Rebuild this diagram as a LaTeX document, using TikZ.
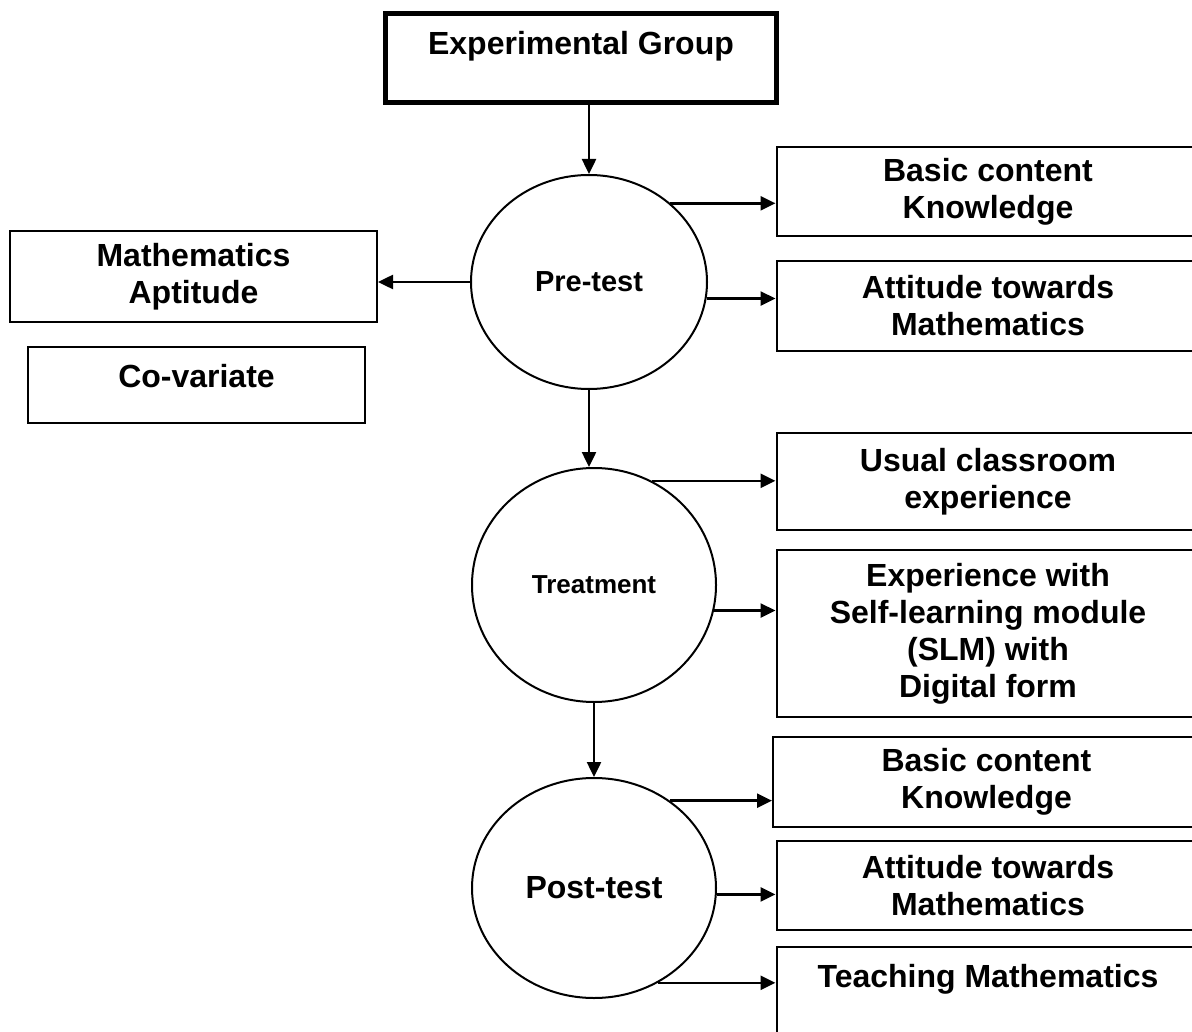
\documentclass[tikz,border=0pt]{standalone}
\usepackage{fontspec}
\setmainfont{Liberation Sans}
\usetikzlibrary{shapes.geometric,arrows.meta}

\begin{document}
\begin{tikzpicture}
	[   x=1pt,y=-1pt,
	    box/.style={draw=black,line width=2pt,rectangle,inner sep=0pt,minimum width=#1,align=center,font=\bfseries\fontsize{32}{37}\selectfont},
	    box/.default=423pt,
	    stage/.style={draw=black,line width=2pt,ellipse,inner sep=0pt,font=\bfseries\fontsize{32}{37}\selectfont},
	]
	\tikzset{normal arrow/.style={draw,line width=2.5pt,-{Triangle[length=15pt,width=14pt]}}}
	\useasboundingbox (0,0) rectangle (1192,1032);

	\node[box=391pt,line width=5pt,text height=41.5pt,text depth=47.5pt] (grp) at (581,58) {Experimental Group};

	% stages
	\node[stage,minimum width=236pt,minimum height=214pt,font=\bfseries\fontsize{29}{33}\selectfont] (pre) at (589,282) {Pre-test};
	\node[stage,minimum width=244pt,minimum height=234pt,font=\bfseries\fontsize{26}{30}\selectfont] (treat) at (594,585) {Treatment};
	\node[stage,minimum width=244pt,minimum height=220pt] (post) at (594,888) {Post-test};

	% left side
	\node[box=367pt,minimum height=91pt] (apt) at (193.5,276.5) {Mathematics\\Aptitude};
	\node[box=337pt,text height=41pt,text depth=35pt] (covar) at (196.5,385) {Co-variate};

	% right side
	\node[box,minimum height=89pt] (b1) at (988,192) {Basic content\\Knowledge};
	\node[box,minimum height=90pt] (b2) at (988,306) {Attitude towards\\Mathematics};
	\node[box,minimum height=97pt] (b3) at (988,481.5) {Usual classroom\\experience};
	\node[box,minimum height=167pt] (slm) at (988,633.5) {Experience with\\Self-learning module\\(SLM) with\\Digital form};
	\node[box=427pt,minimum height=90pt] (b5) at (986.5,782) {Basic content\\Knowledge};
	\node[box,minimum height=89pt] (b6) at (988,885.5) {Attitude towards\\Mathematics};
	\node[box,text height=40pt,text depth=73pt] (b7) at (988,1003.5) {Teaching Mathematics};

	\path[normal arrow] (pre.north |- grp.south) -- (pre.north);
	\path[normal arrow] (pre.south) -- (pre.south |- treat.north);
	\path[normal arrow] (treat.south) -- (treat.south |- post.north);
	\path[normal arrow] (pre.west) -- (pre.west -| apt.east);

	\foreach \a/\b in {44/b1,-8/b2}
	{
		\path[normal arrow] (pre.\a) -- (pre.\a -| \b.west);
	}
	\foreach \a/\b in {61/b3,-12/slm}
	{
		\path[normal arrow] (treat.\a) -- (treat.\a -| \b.west);
	}
	\foreach \a/\b in {49/b5,-3/b6,-56/b7}
	{
		\path[normal arrow] (post.\a) -- (post.\a -| \b.west);
	}

\end{tikzpicture}
\end{document}
